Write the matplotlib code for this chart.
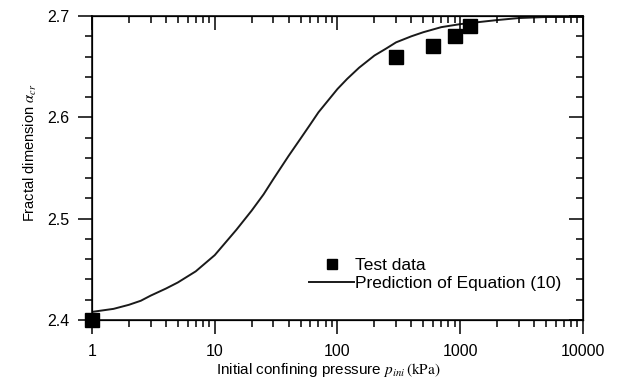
import matplotlib.pyplot as plt
import numpy as np

plt.rcParams['font.family'] = ['Liberation Sans', 'DejaVu Sans']
plt.rcParams['mathtext.fontset'] = 'stix'

# test data
p_test = [1, 300, 600, 900, 1200]
a_test = [2.40, 2.66, 2.67, 2.68, 2.69]

# prediction curve
p_pred = [1, 1.5, 2, 2.5, 3, 4, 5, 7, 10, 15, 20, 25, 30, 40, 50, 60, 70,
          100, 120, 150, 200, 250, 300, 400, 500, 700, 1000, 2000, 3000,
          5000, 10000]
a_pred = [2.408, 2.411, 2.415, 2.419, 2.424, 2.431, 2.437, 2.448, 2.464,
          2.489, 2.508, 2.524, 2.539, 2.562, 2.579, 2.593, 2.605, 2.628,
          2.638, 2.649, 2.661, 2.668, 2.674, 2.680, 2.684, 2.689, 2.692,
          2.696, 2.698, 2.699, 2.699]

fig = plt.figure(figsize=(6.24, 3.83), dpi=100)
ax = fig.add_axes([0.1474, 0.1645, 0.9343 - 0.1474, 0.9582 - 0.1645])

ax.plot(p_test, a_test, 's', color='black', ms=9.5, label='Test data', zorder=3, clip_on=False)
ax.plot(p_pred, a_pred, '-', color='#1a1a1a', lw=1.4, label='Prediction of Equation (10)')

ax.set_xscale('log')
ax.set_xlim(1, 10000)
ax.set_ylim(2.4, 2.7)
ax.set_xticks([1, 10, 100, 1000, 10000])
ax.set_xticklabels(['1', '10', '100', '1000', '10000'])
ax.set_yticks([2.4, 2.5, 2.6, 2.7])
ax.set_yticks(np.arange(2.4, 2.7001, 0.02), minor=True)
ax.tick_params(which='major', direction='out', length=10, width=1.1, labelsize=11.5)
ax.tick_params(axis='y', which='major', pad=6)
ax.tick_params(axis='x', which='major', pad=7)
ax.tick_params(which='minor', direction='out', length=5, width=1.1)
for s in ax.spines.values():
    s.set_linewidth(1.1)

# top and right axes with inward ticks
axt = ax.twiny()
axt.set_xscale('log')
axt.set_xlim(1, 10000)
axt.set_xticks([1, 10, 100, 1000, 10000])
axt.tick_params(which='both', direction='in', labeltop=False, width=1.1)
axt.tick_params(which='major', length=10)
axt.tick_params(which='minor', length=5)
axr = ax.twinx()
axr.set_ylim(2.4, 2.7)
axr.set_yticks([2.4, 2.5, 2.6, 2.7])
axr.set_yticks(np.arange(2.4, 2.7001, 0.02), minor=True)
axr.tick_params(which='both', direction='in', labelright=False, width=1.1)
axr.tick_params(which='major', length=10)
axr.tick_params(which='minor', length=5)

ax.set_xlabel(r'Initial confining pressure $p_{ini}\,\mathrm{(kPa)}$', fontsize=11, labelpad=2, x=0.481)
ax.set_ylabel(r'Fractal dimension $\alpha_{cr}$', fontsize=10.5, labelpad=6, y=0.55)

ax.legend(loc='upper left', bbox_to_anchor=(0.442, 0.203), frameon=False,
          borderpad=0, borderaxespad=0, handlelength=2.6, handletextpad=0.05,
          labelspacing=0.15, fontsize=12.5, markerscale=0.7)

fig.savefig('out.png', dpi=100)
